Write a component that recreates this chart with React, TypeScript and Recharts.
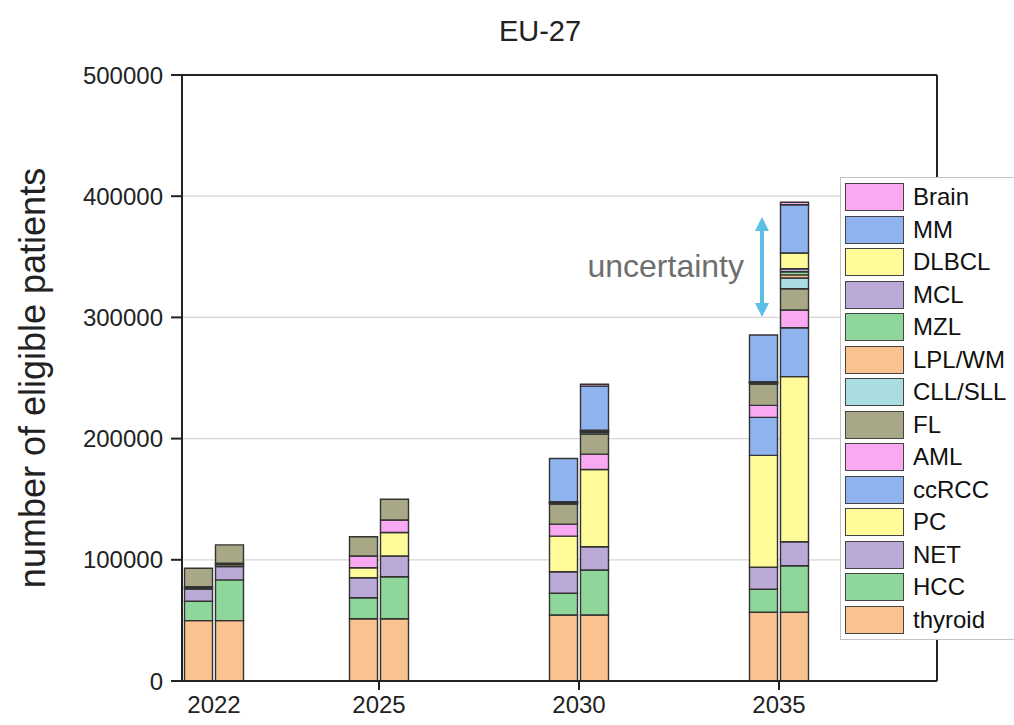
import React from 'react';
import { BarChart, Bar, XAxis, YAxis, CartesianGrid, Legend, ReferenceLine } from 'recharts';

const FONT = '"Liberation Sans", Arial, sans-serif';

// stacking order, bottom to top
const categories = ['thyroid', 'HCC', 'NET', 'PC', 'ccRCC', 'AML', 'FL', 'CLL/SLL', 'LPL/WM', 'MZL', 'MCL', 'DLBCL', 'MM', 'Brain'];
const colors = ['#f9c28f', '#8fd69b', '#bba9d8', '#fffb98', '#8fb3ee', '#f8a9f2', '#a9a886', '#aadde2', '#f9c28f', '#8fd69b', '#bba9d8', '#fffb98', '#8fb3ee', '#f8a9f2'];

const years = ['2022', '2025', '2030', '2035'];
// position of each year group on the x axis (2022 sits closer than a linear year scale)
const slots = [2020.875, 2025, 2030, 2035];

// left bar of each year, in category order
const lower2022 = [49800, 16000, 10150, 1100, 0, 800, 15200, 0, 0, 0, 0, 0, 0, 0];
const lower2025 = [51400, 17300, 16500, 8250, 0, 9650, 15900, 0, 0, 0, 0, 0, 0, 0];
const lower2030 = [54450, 17900, 17800, 29400, 0, 9900, 16500, 700, 400, 400, 400, 0, 35700, 0];
const lower2035 = [56700, 18950, 18150, 92400, 31350, 9900, 17600, 700, 400, 400, 400, 0, 38550, 0];
// right bar of each year
const upper2022 = [49800, 33600, 11000, 1500, 0, 1300, 15100, 0, 0, 0, 0, 0, 0, 0];
const upper2025 = [51400, 34650, 17100, 19400, 0, 10300, 17100, 0, 0, 0, 0, 0, 0, 0];
const upper2030 = [54450, 37100, 19200, 63800, 0, 12650, 16500, 1200, 700, 700, 700, 0, 36300, 1500];
const upper2035 = [56700, 38450, 19800, 136150, 40400, 14600, 17600, 8750, 2600, 2600, 2550, 12900, 39900, 1950];

const yTicks = [0, 100000, 200000, 300000, 400000, 500000];
const yMinorTicks = [50000, 150000, 250000, 350000, 450000];

// uncertainty arrow (x on slot scale, y in patients)
const arrowX = 2034.575;
const arrowTop = 382800;
const arrowBottom = 300300;

const lowerSets = [lower2022, lower2025, lower2030, lower2035];
const upperSets = [upper2022, upper2025, upper2030, upper2035];

const data = slots.map((slot, i) => {
  const row: Record<string, number | string> = { slot, year: years[i] };
  categories.forEach((_, k) => {
    row[`lo_${k}`] = lowerSets[i][k];
    row[`hi_${k}`] = upperSets[i][k];
  });
  return row;
});

const xDomain = [2020.075, 2038.95];

const YearTick = (props: any) => {
  const { x, y, payload, index } = props;
  const label = years[slots.indexOf(payload.value)];
  return (
    <g>
      {index > 0 && <line x1={x} x2={x} y1={y} y2={y + 9} stroke="#222" strokeWidth={2} />}
      <text x={x} y={y + 32} textAnchor="middle" fontSize={24} fontFamily={FONT} fill="#222">
        {label}
      </text>
    </g>
  );
};

const ArrowShape = (props: any) => {
  const { x1, y1, y2 } = props;
  const top = Math.min(y1, y2);
  const bot = Math.max(y1, y2);
  const c = '#5cbfe6';
  return (
    <g>
      <line x1={x1} x2={x1} y1={top + 10} y2={bot - 10} stroke={c} strokeWidth={4} />
      <polygon points={`${x1},${top} ${x1 - 7},${top + 14} ${x1 + 7},${top + 14}`} fill={c} />
      <polygon points={`${x1},${bot} ${x1 - 7},${bot - 14} ${x1 + 7},${bot - 14}`} fill={c} />
    </g>
  );
};

const LegendBox = () => (
  <div style={{ border: '1px solid #c4c4c4', background: '#fff', padding: '3px 0 3px 4px', boxSizing: 'border-box', width: 190 }}>
    {categories.map((_, k) => categories.length - 1 - k).map((k) => (
      <div key={k} style={{ display: 'flex', alignItems: 'center', height: 32.5 }}>
        <span style={{ display: 'inline-block', width: 59, height: 28, background: colors[k], border: '1.5px solid #444', boxSizing: 'border-box' }} />
        <span style={{ marginLeft: 9, fontSize: 24, fontFamily: FONT, color: '#111', lineHeight: 1 }}>{categories[k]}</span>
      </div>
    ))}
  </div>
);

export default function App() {
  return (
    <div style={{ position: 'absolute', left: 0, top: 0, width: 1014, height: 725, overflow: 'hidden', background: '#fff' }}>
      <BarChart width={1014} height={725} data={data} margin={{ top: 75, right: 77, bottom: 0, left: 0 }} barGap={3}>
        <CartesianGrid horizontal vertical={false} stroke="#d6d6d6" strokeWidth={1.2} />
        <XAxis
          dataKey="slot"
          type="number"
          domain={xDomain}
          ticks={slots}
          height={44}
          tickLine={false}
          tickSize={0}
          tickMargin={0}
          tick={<YearTick />}
          axisLine={{ stroke: '#222', strokeWidth: 2 }}
          interval={0}
        />
        <XAxis
          xAxisId="top"
          dataKey="slot"
          type="number"
          orientation="top"
          mirror
          domain={xDomain}
          ticks={slots.slice(1)}
          tick={false}
          tickSize={9}
          tickLine={{ stroke: '#222', strokeWidth: 2 }}
          axisLine={{ stroke: '#222', strokeWidth: 2 }}
        />
        <YAxis
          type="number"
          domain={[0, 500000]}
          ticks={yTicks}
          width={182}
          tickSize={11}
          tickMargin={8}
          tick={{ fontSize: 24, fontFamily: FONT, fill: '#222' }}
          tickLine={{ stroke: '#222', strokeWidth: 2 }}
          axisLine={{ stroke: '#222', strokeWidth: 2 }}
          interval={0}
          label={{
            content: (p: any) => {
              const vb = p.viewBox || { y: 75, height: 606 };
              const cy = vb.y + vb.height / 2;
              return (
                <text x={32} y={cy} transform={`rotate(-90 32 ${cy})`} textAnchor="middle" dominantBaseline="central" fontSize={36} fontFamily={FONT} fill="#222">
                  number of eligible patients
                </text>
              );
            },
          }}
        />
        <YAxis
          yAxisId="minor"
          type="number"
          orientation="left"
          mirror
          domain={[0, 500000]}
          ticks={yMinorTicks}
          tick={false}
          tickSize={7}
          axisLine={false}
          tickLine={{ stroke: '#222', strokeWidth: 2 }}
        />
        <YAxis
          yAxisId="right"
          type="number"
          orientation="right"
          mirror
          domain={[0, 500000]}
          ticks={[...yMinorTicks, ...yTicks]}
          tick={false}
          tickSize={7}
          axisLine={{ stroke: '#222', strokeWidth: 2 }}
          tickLine={{ stroke: '#222', strokeWidth: 2 }}
        />
        {categories.map((c, k) => (
          <Bar key={`lo_${k}`} dataKey={`lo_${k}`} name={c} stackId="lo" fill={colors[k]} stroke="#333" strokeWidth={1.4} barSize={28} isAnimationActive={false} legendType="none" />
        ))}
        {categories.map((c, k) => (
          <Bar key={`hi_${k}`} dataKey={`hi_${k}`} name={c} stackId="hi" fill={colors[k]} stroke="#333" strokeWidth={1.4} barSize={28} isAnimationActive={false} legendType="none" />
        ))}
        <ReferenceLine
          segment={[{ x: arrowX, y: arrowTop }, { x: arrowX, y: arrowBottom }]}
          shape={ArrowShape}
          ifOverflow="visible"
        />
        <Legend
          layout="vertical"
          align="center"
          verticalAlign="middle"
          content={() => <LegendBox />}
          wrapperStyle={{ left: 840, top: 177, width: 190 }}
        />
      </BarChart>
      <div style={{ position: 'absolute', left: 440, width: 200, top: 17, textAlign: 'center', fontSize: 29, lineHeight: 1, fontFamily: FONT, color: '#222' }}>
        EU-27
      </div>
      <div style={{ position: 'absolute', left: 544, width: 200, top: 250, textAlign: 'right', fontSize: 32, lineHeight: 1, fontFamily: FONT, color: '#6e6e6e' }}>
        uncertainty
      </div>
    </div>
  );
}
